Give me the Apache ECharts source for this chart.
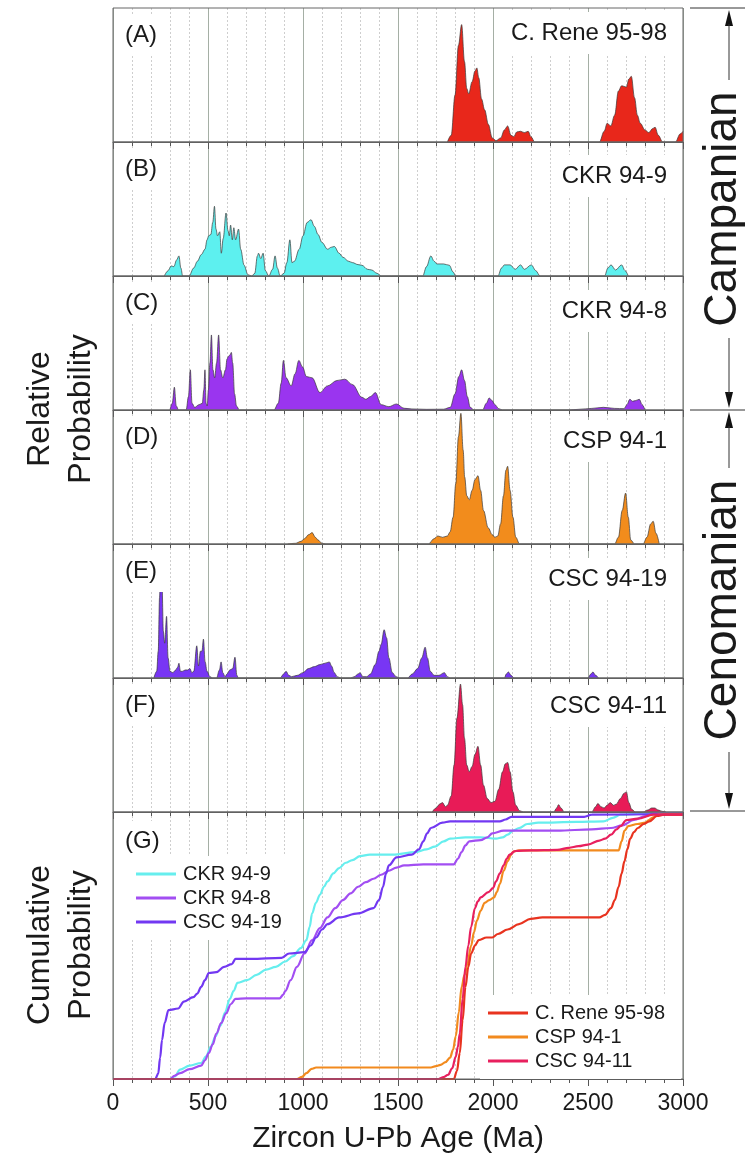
<!DOCTYPE html>
<html><head><meta charset="utf-8">
<script src="https://cdn.jsdelivr.net/npm/echarts@6/dist/echarts.min.js"></script>
<style>html,body{margin:0;padding:0;background:#fff}#c{width:745px;height:1156px}</style>
</head><body><div id="c"></div>
<script>
const ageTicks = [0, 500, 1000, 1500, 2000, 2500, 3000];
const sampleNames = ['C. Rene 95-98', 'CKR 94-9', 'CKR 94-8', 'CSP 94-1', 'CSC 94-19', 'CSC 94-11'];
const panelLetters = ['(A)', '(B)', '(C)', '(D)', '(E)', '(F)', '(G)'];
const stageNames = ['Campanian', 'Cenomanian'];
const leftTitles = [['Relative', 'Probability'], ['Cumulative', 'Probability']];
const xTitle = 'Zircon U-Pb Age (Ma)';

// relative probability (fraction of panel height) vs age (Ma)
const pdpRene = [[1760,0],[1780,0.05],[1800,0.35],[1818,0.72],[1835,0.876],[1850,0.6],[1862,0.4],[1872,0.36],[1890,0.45],[1905,0.53],[1915,0.553],[1925,0.48],[1940,0.32],[1956,0.24],[1976,0.13],[1996,0.03],[2016,0.01],[2040,0.03],[2060,0.09],[2077,0.12],[2095,0.05],[2110,0.04],[2125,0.075],[2145,0.08],[2165,0.07],[2185,0.08],[2200,0.04],[2220,0],[2560,0],[2585,0.08],[2601,0.14],[2620,0.12],[2640,0.2],[2660,0.38],[2677,0.42],[2702,0.41],[2715,0.47],[2728,0.49],[2745,0.33],[2760,0.2],[2775,0.14],[2800,0.09],[2820,0.07],[2840,0.1],[2853,0.11],[2870,0.05],[2893,0],[2960,0],[2985,0.06],[3000,0.08]];
const pdpCkr949 = [[270,0],[290,0.04],[306,0.075],[320,0.07],[335,0.12],[347,0.15],[357,0.06],[367,0],[400,0],[425,0.06],[444,0.11],[465,0.16],[484,0.2],[495,0.27],[504,0.3],[515,0.31],[525,0.4],[534,0.52],[542,0.35],[550,0.3],[562,0.33],[570,0.17],[580,0.28],[595,0.47],[605,0.34],[612,0.3],[619,0.38],[628,0.27],[636,0.36],[645,0.27],[661,0.35],[672,0.2],[690,0.08],[710,0.01],[730,0],[746,0.02],[760,0.15],[766,0.17],[778,0.13],[790,0.17],[802,0.04],[820,0],[840,0.05],[853,0.15],[865,0.06],[880,0],[900,0.02],[915,0.1],[931,0.27],[942,0.1],[955,0.11],[980,0.2],[1000,0.3],[1022,0.4],[1042,0.42],[1060,0.37],[1079,0.31],[1100,0.25],[1129,0.2],[1150,0.215],[1165,0.22],[1190,0.17],[1210,0.14],[1240,0.11],[1260,0.1],[1290,0.085],[1310,0.08],[1340,0.05],[1361,0.045],[1390,0.02],[1411,0],[1630,0],[1650,0.07],[1673,0.15],[1690,0.11],[1705,0.09],[1740,0.09],[1770,0.08],[1790,0.03],[1804,0],[2026,0],[2045,0.06],[2060,0.083],[2090,0.083],[2117,0.05],[2145,0.083],[2165,0.05],[2202,0.083],[2225,0.04],[2248,0],[2587,0],[2605,0.06],[2621,0.083],[2645,0.045],[2677,0.083],[2695,0.04],[2712,0]];
const pdpCkr948 = [[300,0],[312,0.05],[323,0.17],[333,0.03],[345,0],[385,0],[397,0.1],[407,0.30],[416,0.05],[430,0.02],[453,0.04],[470,0.05],[478,0.15],[484,0.30],[490,0.05],[496,0.03],[502,0.15],[510,0.35],[518,0.56],[526,0.3],[535,0.24],[545,0.35],[556,0.56],[566,0.3],[578,0.24],[592,0.3],[600,0.38],[607,0.40],[615,0.41],[623,0.43],[630,0.35],[640,0.12],[650,0.03],[665,0],[847,0],[870,0.05],[885,0.2],[897,0.37],[911,0.24],[938,0.18],[958,0.27],[978,0.37],[998,0.32],[1018,0.25],[1048,0.24],[1089,0.13],[1129,0.18],[1179,0.22],[1220,0.23],[1260,0.19],[1310,0.095],[1331,0.08],[1355,0.1],[1381,0.13],[1411,0.04],[1452,0.025],[1492,0.045],[1532,0.013],[1573,0.008],[1650,0.005],[1740,0.006],[1775,0.02],[1800,0.12],[1820,0.25],[1835,0.30],[1850,0.22],[1865,0.1],[1880,0.02],[1900,0],[1945,0],[1965,0.05],[1980,0.09],[1995,0.07],[2010,0.04],[2030,0.01],[2050,0],[2400,0],[2450,0.005],[2520,0.012],[2581,0.02],[2640,0.012],[2690,0.01],[2705,0.04],[2720,0.08],[2735,0.065],[2750,0.07],[2770,0.08],[2785,0.04],[2800,0]];
const pdpCsp941 = [[920,0],[960,0.005],[990,0.02],[1008,0.04],[1030,0.07],[1048,0.085],[1065,0.05],[1079,0.03],[1100,0.005],[1120,0],[1660,0],[1690,0.04],[1710,0.06],[1735,0.05],[1760,0.06],[1774,0.09],[1790,0.2],[1804,0.45],[1818,0.8],[1831,0.975],[1843,0.7],[1851,0.5],[1862,0.36],[1875,0.33],[1890,0.4],[1905,0.48],[1921,0.51],[1935,0.4],[1950,0.25],[1975,0.12],[1996,0.07],[2010,0.05],[2025,0.06],[2040,0.15],[2055,0.36],[2068,0.55],[2077,0.58],[2090,0.4],[2105,0.2],[2120,0.05],[2140,0],[2640,0],[2660,0.05],[2680,0.25],[2698,0.38],[2712,0.2],[2725,0.03],[2745,0],[2790,0],[2810,0.05],[2830,0.15],[2843,0.17],[2858,0.08],[2875,0]];
const pdpCsc9419 = [[215,0],[230,0.05],[238,0.2],[245,0.6],[252,0.885],[258,0.7],[265,0.35],[272,0.26],[282,0.46],[290,0.15],[300,0.05],[315,0.04],[330,0.06],[340,0.08],[347,0.11],[355,0.05],[365,0.05],[380,0.06],[393,0.06],[405,0.07],[415,0.04],[425,0.05],[441,0.24],[450,0.09],[460,0.2],[468,0.2],[476,0.29],[485,0.12],[495,0.05],[510,0.01],[525,0],[545,0],[560,0.06],[569,0.12],[578,0.04],[590,0.01],[600,0.03],[615,0.06],[630,0.07],[642,0.155],[652,0.02],[660,0],[880,0],[898,0.03],[911,0.05],[925,0.02],[940,0.01],[970,0.02],[1000,0.04],[1028,0.07],[1060,0.085],[1089,0.1],[1115,0.11],[1139,0.12],[1150,0.09],[1165,0.04],[1180,0.01],[1200,0],[1250,0],[1270,0.01],[1290,0.03],[1300,0.04],[1315,0.01],[1335,0.01],[1355,0.03],[1380,0.1],[1400,0.2],[1411,0.25],[1427,0.36],[1440,0.3],[1452,0.15],[1470,0.04],[1490,0.01],[1510,0],[1550,0],[1575,0.03],[1603,0.07],[1625,0.15],[1643,0.23],[1655,0.15],[1670,0.05],[1690,0.02],[1715,0.02],[1744,0.04],[1760,0.01],[1775,0],[2060,0],[2070,0.03],[2081,0.045],[2095,0.02],[2110,0],[2500,0],[2515,0.03],[2526,0.045],[2540,0.02],[2555,0]];
const pdpCsc9411 = [[1680,0],[1700,0.03],[1720,0.06],[1734,0.07],[1750,0.04],[1760,0.05],[1780,0.12],[1795,0.35],[1810,0.7],[1829,0.955],[1840,0.8],[1850,0.55],[1862,0.35],[1875,0.3],[1890,0.34],[1905,0.43],[1921,0.49],[1935,0.35],[1950,0.2],[1970,0.1],[1990,0.07],[2010,0.08],[2030,0.17],[2050,0.3],[2065,0.36],[2077,0.37],[2090,0.3],[2105,0.15],[2120,0.05],[2140,0.01],[2160,0],[2320,0],[2335,0.03],[2345,0.055],[2358,0.03],[2375,0],[2520,0],[2540,0.04],[2552,0.064],[2568,0.04],[2585,0.03],[2600,0.05],[2617,0.07],[2635,0.05],[2650,0.06],[2670,0.1],[2690,0.14],[2702,0.15],[2715,0.07],[2730,0.02],[2750,0],[2790,0],[2815,0.015],[2835,0.03],[2850,0.03],[2870,0.015],[2890,0.005],[2910,0]];

// cumulative probability vs age (Ma)
const cdfCkr949 = [[0,0],[300,0],[325,0.01],[353,0.035],[403,0.05],[464,0.06],[490,0.085],[514,0.12],[540,0.16],[565,0.2],[590,0.25],[615,0.3],[635,0.33],[655,0.36],[706,0.37],[756,0.39],[806,0.41],[857,0.42],[907,0.44],[948,0.46],[988,0.49],[1018,0.52],[1035,0.57],[1048,0.62],[1068,0.66],[1089,0.69],[1110,0.72],[1129,0.74],[1160,0.77],[1190,0.79],[1225,0.81],[1260,0.82],[1300,0.835],[1351,0.84],[1472,0.84],[1593,0.85],[1650,0.86],[1694,0.87],[1740,0.89],[1774,0.9],[1855,0.905],[1935,0.905],[2016,0.9],[2050,0.905],[2077,0.915],[2105,0.93],[2137,0.94],[2180,0.955],[2238,0.96],[2440,0.963],[2581,0.965],[2631,0.978],[2671,0.99],[2742,0.992],[2850,0.995],[3000,0.995]];
const cdfCkr948 = [[0,0],[300,0],[323,0.012],[353,0.022],[403,0.037],[464,0.05],[484,0.07],[504,0.097],[525,0.13],[544,0.17],[570,0.21],[595,0.246],[620,0.28],[645,0.30],[700,0.302],[766,0.302],[877,0.302],[895,0.315],[907,0.33],[935,0.37],[968,0.42],[1008,0.47],[1048,0.52],[1089,0.565],[1129,0.605],[1170,0.64],[1210,0.67],[1250,0.695],[1290,0.72],[1330,0.737],[1371,0.75],[1411,0.765],[1452,0.78],[1492,0.792],[1532,0.80],[1633,0.804],[1794,0.804],[1815,0.825],[1835,0.85],[1855,0.875],[1875,0.89],[1935,0.895],[1970,0.905],[1996,0.92],[2056,0.93],[2137,0.93],[2339,0.93],[2520,0.935],[2621,0.94],[2681,0.95],[2742,0.97],[2802,0.985],[2850,0.995],[3000,0.995]];
const cdfCsc9419 = [[0,0],[222,0],[238,0.02],[248,0.08],[258,0.146],[272,0.21],[292,0.258],[343,0.264],[373,0.29],[423,0.307],[444,0.32],[464,0.345],[484,0.37],[504,0.397],[544,0.40],[585,0.42],[625,0.43],[645,0.45],[726,0.45],[887,0.454],[927,0.47],[1008,0.475],[1040,0.5],[1069,0.53],[1100,0.56],[1129,0.58],[1190,0.605],[1290,0.62],[1371,0.64],[1400,0.67],[1421,0.72],[1437,0.77],[1452,0.80],[1492,0.83],[1573,0.84],[1610,0.86],[1633,0.89],[1653,0.92],[1673,0.94],[1734,0.96],[1774,0.965],[2036,0.965],[2066,0.972],[2097,0.982],[2238,0.982],[2480,0.982],[2520,0.99],[3000,0.993]];
const cdfRene = [[0,0],[1794,0],[1810,0.03],[1825,0.097],[1840,0.22],[1855,0.345],[1870,0.42],[1885,0.47],[1905,0.5],[1925,0.52],[1966,0.53],[1996,0.53],[2026,0.543],[2077,0.56],[2137,0.58],[2198,0.60],[2260,0.605],[2339,0.605],[2560,0.605],[2590,0.615],[2621,0.64],[2641,0.67],[2661,0.72],[2677,0.77],[2692,0.816],[2707,0.86],[2722,0.9],[2742,0.925],[2762,0.94],[2793,0.955],[2823,0.965],[2863,0.985],[2900,0.99],[3000,0.99]];
const cdfCsp941 = [[0,0],[968,0],[995,0.008],[1018,0.022],[1045,0.038],[1069,0.043],[1331,0.043],[1673,0.043],[1700,0.048],[1724,0.053],[1750,0.063],[1774,0.08],[1790,0.11],[1804,0.16],[1820,0.25],[1835,0.345],[1850,0.39],[1865,0.43],[1885,0.5],[1900,0.55],[1915,0.593],[1935,0.63],[1956,0.66],[1980,0.67],[2006,0.68],[2020,0.7],[2036,0.73],[2056,0.78],[2077,0.816],[2095,0.84],[2107,0.852],[2137,0.856],[2339,0.856],[2661,0.856],[2677,0.89],[2692,0.93],[2712,0.947],[2760,0.955],[2802,0.96],[2820,0.97],[2843,0.98],[2870,0.99],[3000,0.99]];
const cdfCsc9411 = [[0,0],[1714,0],[1740,0.007],[1764,0.016],[1785,0.04],[1804,0.084],[1815,0.12],[1825,0.17],[1840,0.3],[1855,0.42],[1870,0.5],[1885,0.57],[1905,0.64],[1920,0.665],[1935,0.68],[1976,0.70],[2000,0.715],[2016,0.74],[2036,0.77],[2056,0.80],[2072,0.825],[2087,0.84],[2117,0.854],[2200,0.856],[2339,0.858],[2399,0.866],[2450,0.872],[2500,0.878],[2560,0.893],[2590,0.9],[2621,0.915],[2650,0.935],[2671,0.947],[2702,0.97],[2762,0.975],[2843,0.99],[3000,0.99]];

const FONT = '"Liberation Sans", Arial, Helvetica, sans-serif';
const L = 113, W = 570;
const panelTop = [8, 142, 276, 410, 544, 678], panelH = 134;
const gTop = 812, gH = 267;
const fills = ['#e8271b', '#5df0ef', '#9a35ef', '#f28c1c', '#7836f4', '#e81b57'];
const pdpData = [pdpRene, pdpCkr949, pdpCkr948, pdpCsp941, pdpCsc9419, pdpCsc9411];
const cdfOrder = [
  {name: 'CKR 94-9', data: cdfCkr949, color: '#66eeee'},
  {name: 'CKR 94-8', data: cdfCkr948, color: '#a24ef2'},
  {name: 'CSC 94-19', data: cdfCsc9419, color: '#7238f2'},
  {name: 'CSP 94-1', data: cdfCsp941, color: '#f28a1e'},
  {name: 'C. Rene 95-98', data: cdfRene, color: '#e8331f'},
  {name: 'CSC 94-11', data: cdfCsc9411, color: '#e8205e'}
];

const grids = panelTop.map(t => ({left: L, width: W, top: t, height: panelH}));
grids.push({left: L, width: W, top: gTop, height: gH});
grids.forEach(g => { g.show = true; g.borderColor = '#666'; g.borderWidth = 1; g.backgroundColor = 'transparent'; g.z = 5; });

const xAxes = grids.map((g, i) => ({
  gridIndex: i, type: 'value', min: ageTicks[0], max: ageTicks[ageTicks.length - 1], interval: 500,
  axisLine: {show: true, lineStyle: {color: '#555', width: 1}},
  axisTick: {show: true, length: 7, lineStyle: {color: '#555', width: 1}},
  minorTick: {show: true, splitNumber: 5, length: 4, lineStyle: {color: '#555', width: 1}},
  splitLine: {show: true, lineStyle: {color: '#8e9a8e', width: 0.8}},
  minorSplitLine: {show: true, lineStyle: {color: '#c2c2c2', width: 0.8, type: [2, 2]}},
  axisLabel: i === 6 ? {show: true, fontSize: 23, color: '#1a1a1a', fontFamily: FONT, margin: 13,
    formatter: v => ageTicks.includes(v) ? String(v) : ''} : {show: false},
  name: i === 6 ? xTitle : '', nameLocation: 'middle', nameGap: 45,
  nameTextStyle: {fontSize: 30, color: '#1a1a1a', fontFamily: FONT}
}));
const yAxes = grids.map((g, i) => ({gridIndex: i, type: 'value', min: 0, max: 1, show: false}));

const series = [];
pdpData.forEach((d, i) => series.push({
  type: 'line', name: 'pdp' + i, xAxisIndex: i, yAxisIndex: i, data: d, symbol: 'none',
  smooth: 0.35, smoothMonotone: 'x', silent: true, z: 3,
  lineStyle: {color: '#3a3a3a', width: 0.7}, areaStyle: {color: fills[i], opacity: 1}
}));
cdfOrder.forEach(s => series.push({
  type: 'line', name: s.name, xAxisIndex: 6, yAxisIndex: 6, data: s.data, symbol: 'none', showSymbol: false,
  smooth: 0.35, smoothMonotone: 'x', silent: true, z: 3, color: s.color,
  lineStyle: {color: s.color, width: 2.2}
}));

const legendBase = {orient: 'vertical', icon: 'rect', itemWidth: 40, itemHeight: 3, itemGap: 4, backgroundColor: '#fff',
  selectedMode: false, textStyle: {fontSize: 20, color: '#1a1a1a', fontFamily: FONT, padding: [0, 0, 0, 2]}, z: 6};
const legends = [
  Object.assign({}, legendBase, {data: ['CKR 94-9', 'CKR 94-8', 'CSC 94-19'], left: 128, top: 856, padding: [8, 12, 8, 8]}),
  Object.assign({}, legendBase, {data: ['C. Rene 95-98', 'CSP 94-1', 'CSC 94-11'], left: 480, top: 995, padding: [8, 16, 8, 8]})
];

const rightOffsets = [25, 34, 35, 31, 35, 28];
const gfx = [];
panelTop.forEach((t, i) => {
  gfx.push({type: 'text', x: 121, y: t + 27, z: 4, style: {text: panelLetters[i], font: '24px ' + FONT, fill: '#1a1a1a',
    verticalAlign: 'middle', textVerticalAlign: 'middle', backgroundColor: '#fff', padding: [10, 8, 8, 4]}});
  gfx.push({type: 'text', x: 677, y: t + rightOffsets[i], z: 4, style: {text: sampleNames[i], font: '24px ' + FONT, fill: '#1a1a1a',
    align: 'right', textAlign: 'right', verticalAlign: 'middle', textVerticalAlign: 'middle', backgroundColor: '#fff', padding: [10, 10, 8, 8]}});
});
gfx.push({type: 'text', x: 121, y: gTop + 29, z: 4, style: {text: panelLetters[6], font: '24px ' + FONT, fill: '#1a1a1a',
  verticalAlign: 'middle', textVerticalAlign: 'middle', backgroundColor: '#fff', padding: [8, 8, 8, 4]}});
// left titles
[[409, leftTitles[0]], [945, leftTitles[1]]].forEach(([cy, words]) => {
  gfx.push({type: 'text', x: 40, y: cy, rotation: Math.PI / 2, style: {text: words[0], font: '32px ' + FONT, fill: '#1a1a1a', align: 'center', textAlign: 'center', verticalAlign: 'middle', textVerticalAlign: 'middle'}});
  gfx.push({type: 'text', x: 81, y: cy, rotation: Math.PI / 2, style: {text: words[1], font: '32px ' + FONT, fill: '#1a1a1a', align: 'center', textAlign: 'center', verticalAlign: 'middle', textVerticalAlign: 'middle'}});
});
// right stage annotation
const AX = 729, lineCol = '#333';
[8, 410, 811].forEach(y => gfx.push({type: 'line', shape: {x1: 690, y1: y, x2: 745, y2: y}, style: {stroke: lineCol, lineWidth: 1}}));
const arrow = (tipY, dir) => ({type: 'polygon', shape: {points: [[AX, tipY], [AX - 4, tipY + dir * 16], [AX + 4, tipY + dir * 16]]}, style: {fill: '#111'}});
gfx.push(arrow(10, 1), arrow(408, -1), arrow(412, 1), arrow(809, -1));
[[24, 80], [338, 394], [426, 468], [752, 794]].forEach(([a, b]) => gfx.push({type: 'line', shape: {x1: AX, y1: a, x2: AX, y2: b}, style: {stroke: lineCol, lineWidth: 1}}));
gfx.push({type: 'text', x: 723, y: 209, rotation: Math.PI / 2, style: {text: stageNames[0], font: '46px ' + FONT, fill: '#1a1a1a', align: 'center', textAlign: 'center', verticalAlign: 'middle', textVerticalAlign: 'middle'}});
gfx.push({type: 'text', x: 723, y: 610, rotation: Math.PI / 2, style: {text: stageNames[1], font: '46px ' + FONT, fill: '#1a1a1a', align: 'center', textAlign: 'center', verticalAlign: 'middle', textVerticalAlign: 'middle'}});

const chart = echarts.init(document.getElementById('c'), null, {renderer: 'canvas'});
chart.setOption({
  animation: false, backgroundColor: '#fff',
  grid: grids, xAxis: xAxes, yAxis: yAxes, series: series, legend: legends, graphic: {elements: gfx}
});
</script></body></html>
